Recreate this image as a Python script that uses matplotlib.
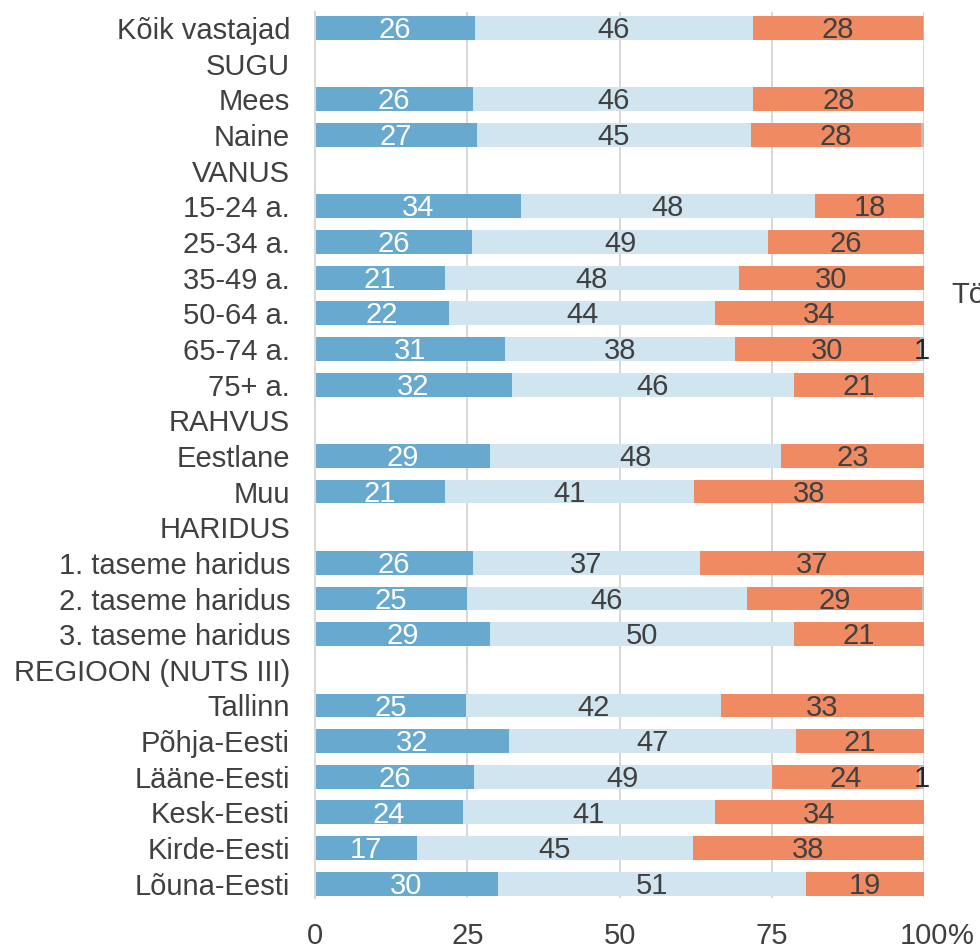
import numpy as np
import matplotlib.pyplot as plt
import matplotlib.transforms as mtransforms

plt.rcParams['font.family'] = ['Liberation Sans', 'DejaVu Sans']

# rows from top to bottom; None marks a group header row
categories = ['Kõik vastajad', 'SUGU', 'Mees', 'Naine', 'VANUS', '15-24 a.', '25-34 a.',
              '35-49 a.', '50-64 a.', '65-74 a.', '75+ a.', 'RAHVUS', 'Eestlane', 'Muu',
              'HARIDUS', '1. taseme haridus', '2. taseme haridus', '3. taseme haridus',
              'REGIOON (NUTS III)', 'Tallinn', 'Põhja-Eesti', 'Lääne-Eesti', 'Kesk-Eesti',
              'Kirde-Eesti', 'Lõuna-Eesti']
blue = [26.2, None, 25.9, 26.6, None, 33.8, 25.8, 21.3, 22.0, 31.2, 32.3, None, 28.7, 21.4,
        None, 25.9, 24.9, 28.7, None, 24.8, 31.9, 26.1, 24.3, 16.7, 30.0]
light = [45.8, None, 46.1, 45.0, None, 48.3, 48.6, 48.3, 43.7, 37.8, 46.4, None, 47.9, 40.8,
         None, 37.3, 46.1, 50.0, None, 41.9, 47.1, 48.9, 41.3, 45.4, 50.6]
orange = [27.8, None, 28.0, 27.9, None, 17.9, 25.6, 30.4, 34.3, 30.3, 21.3, None, 23.4, 37.8,
          None, 36.8, 28.6, 21.3, None, 33.3, 21.0, 24.2, 34.4, 37.9, 19.4]
gray = [0.2, None, 0, 0.5, None, 0, 0, 0, 0, 0.7, 0, None, 0, 0,
        None, 0, 0.4, 0, None, 0, 0, 0.8, 0, 0, 0]

series = [blue, light, orange, gray]
colors = ['#67a9cf', '#d1e5f0', '#ef8a62', '#bdbdbd']
text_colors = ['white', '#404040', '#404040', '#262626']

fig = plt.figure(figsize=(9.8, 9.49), dpi=100)
ax = fig.add_axes([315 / 980, 1 - 898 / 949, 609 / 980, 886 / 949])

y = np.arange(len(categories))
left = np.zeros(len(categories))
for vals, col, tcol in zip(series, colors, text_colors):
    v = np.array([0 if x is None else x for x in vals], dtype=float)
    ax.barh(y, v, left=left, height=0.67, color=col, zorder=2)
    for i, val in enumerate(v):
        if val >= 0.6:
            ax.text(left[i] + val / 2, i + 0.06, f'{val:.0f}', ha='center', va='center',
                    fontsize=21, color=tcol, zorder=3)
    left += v

ax.set_xlim(0, 100)
ax.set_ylim(len(categories) - 0.6, -0.45)
ax.set_yticks(y)
ax.set_yticklabels(categories, fontsize=21, color='#404040')
ax.set_xticks([0, 25, 50, 75, 100])
ax.set_xticklabels(['0', '25', '50', '75', '100'], fontsize=21, color='#404040')
pct_off = mtransforms.ScaledTranslation(24 / 100, -24 / 100, fig.dpi_scale_trans)
ax.text(100, 0, '%', transform=ax.get_xaxis_transform() + pct_off, ha='left', va='top',
        fontsize=21, color='#404040')
ax.tick_params(axis='both', length=0)
ax.tick_params(axis='x', pad=17.5)
ax.tick_params(axis='y', pad=18)
ax.grid(axis='x', color='#d9d9d9', linewidth=1.5, zorder=0)
for s in ['top', 'right', 'bottom']:
    ax.spines[s].set_visible(False)
ax.spines['left'].set_color('#d9d9d9')
ax.spines['left'].set_linewidth(1.5)

fig.text(951 / 980, 1 - 295 / 949, 'Tö', fontsize=21, color='#404040', va='center')

fig.savefig('out.png', dpi=100)
